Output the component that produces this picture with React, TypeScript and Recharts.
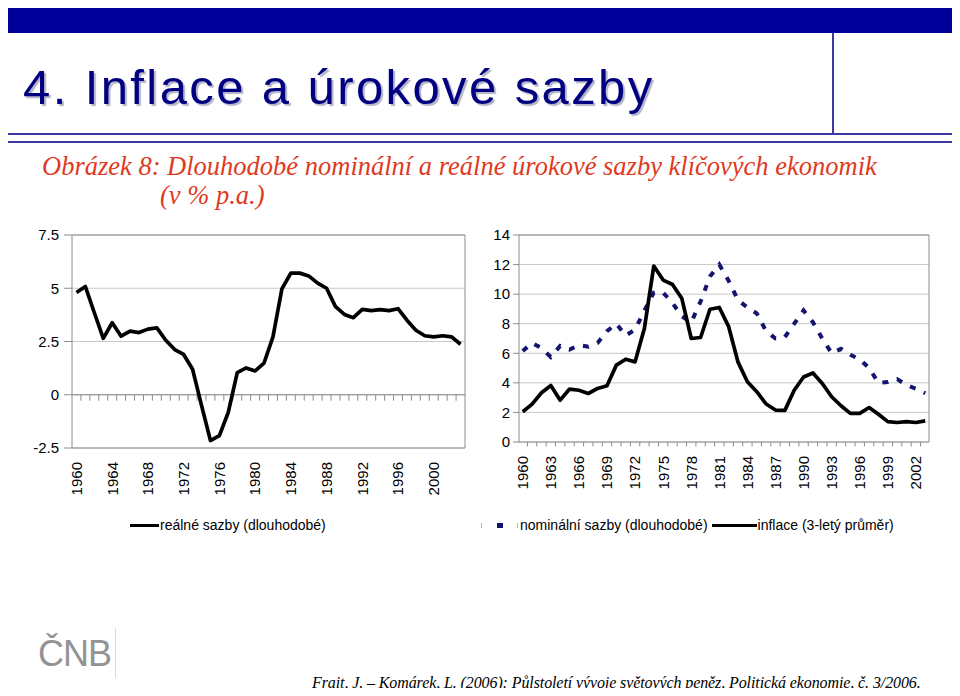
import React from "react";
import {
  LineChart,
  Line,
  XAxis,
  YAxis,
  CartesianGrid,
  ReferenceLine,
  ReferenceArea,
} from "recharts";

// years 1960 - 2003
const years = [
  1960, 1961, 1962, 1963, 1964, 1965, 1966, 1967, 1968, 1969,
  1970, 1971, 1972, 1973, 1974, 1975, 1976, 1977, 1978, 1979,
  1980, 1981, 1982, 1983, 1984, 1985, 1986, 1987, 1988, 1989,
  1990, 1991, 1992, 1993, 1994, 1995, 1996, 1997, 1998, 1999,
  2000, 2001, 2002, 2003,
];

// reálné sazby (dlouhodobé)
const realRates = [
  4.8, 5.08, 3.85, 2.65, 3.38, 2.75, 2.99, 2.92, 3.08, 3.14,
  2.56, 2.12, 1.89, 1.2, -0.5, -2.15, -1.92, -0.82, 1.04, 1.26,
  1.12, 1.49, 2.72, 4.97, 5.71, 5.71, 5.58, 5.24, 5.0, 4.14,
  3.77, 3.62, 4.01, 3.95, 4.0, 3.95, 4.04, 3.5, 3.03, 2.77,
  2.72, 2.77, 2.72, 2.37,
];

// nominální sazby (dlouhodobé)
const nominalRates = [
  6.15, 6.7, 6.35, 5.75, 6.5, 6.25, 6.55, 6.45, 6.7, 7.5,
  8.0, 7.2, 7.6, 8.9, 10.1, 10.1, 9.4, 8.5, 8.1, 9.5,
  11.2, 12.0, 10.9, 9.6, 9.1, 8.7, 7.5, 7.0, 7.1, 8.0,
  8.9, 8.1, 7.0, 6.0, 6.3, 5.9, 5.6, 5.0, 4.0, 4.05,
  4.25, 3.85, 3.6, 3.3,
];

// inflace (3-letý průměr)
const inflation = [
  2.05, 2.56, 3.33, 3.82, 2.83, 3.58, 3.5, 3.28, 3.62, 3.8,
  5.2, 5.6, 5.42, 7.7, 11.9, 10.95, 10.65, 9.7, 7.0, 7.07,
  8.98, 9.1, 7.8, 5.4, 4.07, 3.4, 2.57, 2.16, 2.14, 3.5,
  4.4, 4.67, 3.96, 3.06, 2.45, 1.94, 1.94, 2.33, 1.88, 1.38,
  1.32, 1.38, 1.32, 1.43,
];

const leftYearTicks = [1960, 1964, 1968, 1972, 1976, 1980, 1984, 1988, 1992, 1996, 2000];
const rightYearTicks = [1960, 1963, 1966, 1969, 1972, 1975, 1978, 1981, 1984, 1987, 1990, 1993, 1996, 1999, 2002];
const leftValueTicks = [-2.5, 0, 2.5, 5, 7.5];
const rightValueTicks = [0, 2, 4, 6, 8, 10, 12, 14];

const leftData = years.map((year, i) => ({ year, real: realRates[i] }));
const rightData = years.map((year, i) => ({
  year,
  nominal: nominalRates[i],
  inflation: inflation[i],
}));
// tick marks sit between the years (Excel style)
const boundaries = years.slice(0, -1).map((y) => y + 0.5);

const FONT = "'Liberation Sans', Arial, sans-serif";
const SERIF = "'Liberation Serif', 'Times New Roman', serif";
const NAVY_LINE = "#141470";
const BORDER = "#8c8c8c";
const GRID = "#c8c8c8";

const YearTick = (props: any) => {
  const { x, y, payload } = props;
  return (
    <text
      x={x}
      y={y}
      transform={`rotate(-90, ${x}, ${y})`}
      textAnchor='end'
      dy='0.36em'
      fontSize={15}
      fontFamily={FONT}
      fill='#000'
    >
      {payload.value}
    </text>
  );
};

export default function App() {
  const legendText = { fontFamily: FONT, fontSize: 14, color: "#000" };
  return (
    <div
      style={{
        position: "relative",
        width: 960,
        height: 696,
        margin: -8,
        background: "#fff",
        overflow: "hidden",
      }}
    >
      {/* header */}
      <div style={{ position: "absolute", left: 3, top: 1, width: 954, height: 32, background: "#00009a" }} />
      <div style={{ position: "absolute", left: 832, top: 33, width: 1.5, height: 100, background: "#3c3ca0" }} />
      <div style={{ position: "absolute", left: 4, top: 133, width: 953, height: 1.5, background: "#3c3ca0" }} />
      <div style={{ position: "absolute", left: 4, top: 141, width: 953, height: 1.5, background: "#3c3ca0" }} />
      <div
        style={{
          position: "absolute",
          left: 23,
          top: 59,
          fontFamily: FONT,
          fontSize: 49,
          letterSpacing: 2.4,
          color: "#000080",
          textShadow: "2px 2px 1px #b4b4c8",
          whiteSpace: "nowrap",
        }}
      >
        4. Inflace a úrokové sazby
      </div>
      <div
        style={{
          position: "absolute",
          left: 42,
          top: 152,
          fontFamily: SERIF,
          fontStyle: "italic",
          fontSize: 26.5,
          lineHeight: "29px",
          color: "#e03a1e",
          whiteSpace: "nowrap",
        }}
      >
        Obrázek 8: Dlouhodobé nominální a reálné úrokové sazby klíčových ekonomik
        <div style={{ paddingLeft: 118 }}>(v % p.a.)</div>
      </div>

      {/* left chart: real rates */}
      <div style={{ position: "absolute", left: 0, top: 225 }}>
        <LineChart width={480} height={280} data={leftData} margin={{ top: 10, right: 15, left: 0, bottom: 0 }}>
          <CartesianGrid horizontal vertical={false} stroke={GRID} />
          <XAxis
            dataKey='year'
            type='number'
            domain={[1959.5, 2003.5]}
            ticks={leftYearTicks}
            interval={0}
            axisLine={false}
            tickLine={false}
            tickSize={6}
            tickMargin={8}
            height={57}
            tick={<YearTick />}
          />
          <YAxis
            domain={[-2.5, 7.5]}
            ticks={leftValueTicks}
            width={72}
            axisLine={false}
            tickLine={{ stroke: BORDER }}
            tickSize={8}
            tickMargin={5}
            tick={{ fontSize: 15, fontFamily: FONT, fill: "#000" }}
          />
          <ReferenceArea x1={1959.5} x2={2003.5} y1={-2.5} y2={7.5} fill='none' stroke={BORDER} ifOverflow='visible' />
          <ReferenceLine y={0} stroke={BORDER} />
          {boundaries.map((b) => (
            <ReferenceLine
              key={b}
              segment={[
                { x: b, y: 0 },
                { x: b, y: -0.28 },
              ]}
              stroke={BORDER}
              ifOverflow='visible'
            />
          ))}
          <Line
            type='linear'
            dataKey='real'
            stroke='#000'
            strokeWidth={3.7}
            dot={false}
            strokeLinejoin='round'
            isAnimationActive={false}
          />
        </LineChart>
      </div>

      {/* right chart: nominal rates and inflation */}
      <div style={{ position: "absolute", left: 480, top: 225 }}>
        <LineChart width={460} height={280} data={rightData} margin={{ top: 10, right: 11, left: 0, bottom: 0 }}>
          <CartesianGrid horizontal vertical={false} stroke={GRID} />
          <XAxis
            dataKey='year'
            type='number'
            domain={[1959.6, 2003.4]}
            ticks={rightYearTicks}
            interval={0}
            axisLine={false}
            tickLine={false}
            tickSize={6}
            tickMargin={8}
            height={63}
            tick={<YearTick />}
          />
          <YAxis
            domain={[0, 14]}
            ticks={rightValueTicks}
            width={39}
            axisLine={false}
            tickLine={{ stroke: BORDER }}
            tickSize={6}
            tickMargin={3}
            tick={{ fontSize: 15, fontFamily: FONT, fill: "#000" }}
          />
          <ReferenceArea x1={1959.6} x2={2003.4} y1={0} y2={14} fill='none' stroke={BORDER} ifOverflow='visible' />
          {boundaries.map((b) => (
            <ReferenceLine
              key={b}
              segment={[
                { x: b, y: 0 },
                { x: b, y: -0.3 },
              ]}
              stroke={BORDER}
              ifOverflow='visible'
            />
          ))}
          <Line
            type='linear'
            dataKey='nominal'
            stroke={NAVY_LINE}
            strokeWidth={4}
            strokeDasharray='6 9'
            dot={false}
            isAnimationActive={false}
          />
          <Line
            type='linear'
            dataKey='inflation'
            stroke='#000'
            strokeWidth={3.7}
            dot={false}
            strokeLinejoin='round'
            isAnimationActive={false}
          />
        </LineChart>
      </div>

      {/* legends */}
      <div style={{ position: "absolute", left: 130, top: 517, display: "flex", alignItems: "center", ...legendText }}>
        <div style={{ width: 29, height: 3, background: "#000" }} />
        <span style={{ marginLeft: 1 }}>reálné sazby (dlouhodobé)</span>
      </div>
      <div style={{ position: "absolute", left: 481, top: 517, display: "flex", alignItems: "center", ...legendText }}>
        <div style={{ width: 37, height: 5, position: "relative" }}>
          <div style={{ position: "absolute", left: 0, top: 0, width: 1, height: 5, background: "#b0b0c8" }} />
          <div style={{ position: "absolute", left: 16, top: 0, width: 6, height: 5, background: NAVY_LINE }} />
          <div style={{ position: "absolute", left: 36, top: 0, width: 1, height: 5, background: "#b0b0c8" }} />
        </div>
        <span style={{ marginLeft: 2 }}>nominální sazby (dlouhodobé)</span>
        <div style={{ width: 45, height: 3, background: "#000", marginLeft: 4 }} />
        <span style={{ marginLeft: 1 }}>inflace (3-letý průměr)</span>
      </div>

      {/* footer */}
      <div
        style={{
          position: "absolute",
          left: 38,
          top: 634,
          fontFamily: FONT,
          fontSize: 36,
          lineHeight: "40px",
          color: "#939393",
          letterSpacing: -1,
        }}
      >
        ČNB
      </div>
      <div style={{ position: "absolute", left: 115, top: 628, width: 1, height: 50, background: "#e4d4d8" }} />
      <div
        style={{
          position: "absolute",
          left: 312,
          top: 674,
          fontFamily: SERIF,
          fontStyle: "italic",
          fontSize: 16,
          lineHeight: "18px",
          letterSpacing: -0.1,
          color: "#000",
          whiteSpace: "nowrap",
        }}
      >
        Frait, J. – Komárek, L. (2006): Půlstoletí vývoje světových peněz, Politická ekonomie, č. 3/2006.
      </div>
    </div>
  );
}
